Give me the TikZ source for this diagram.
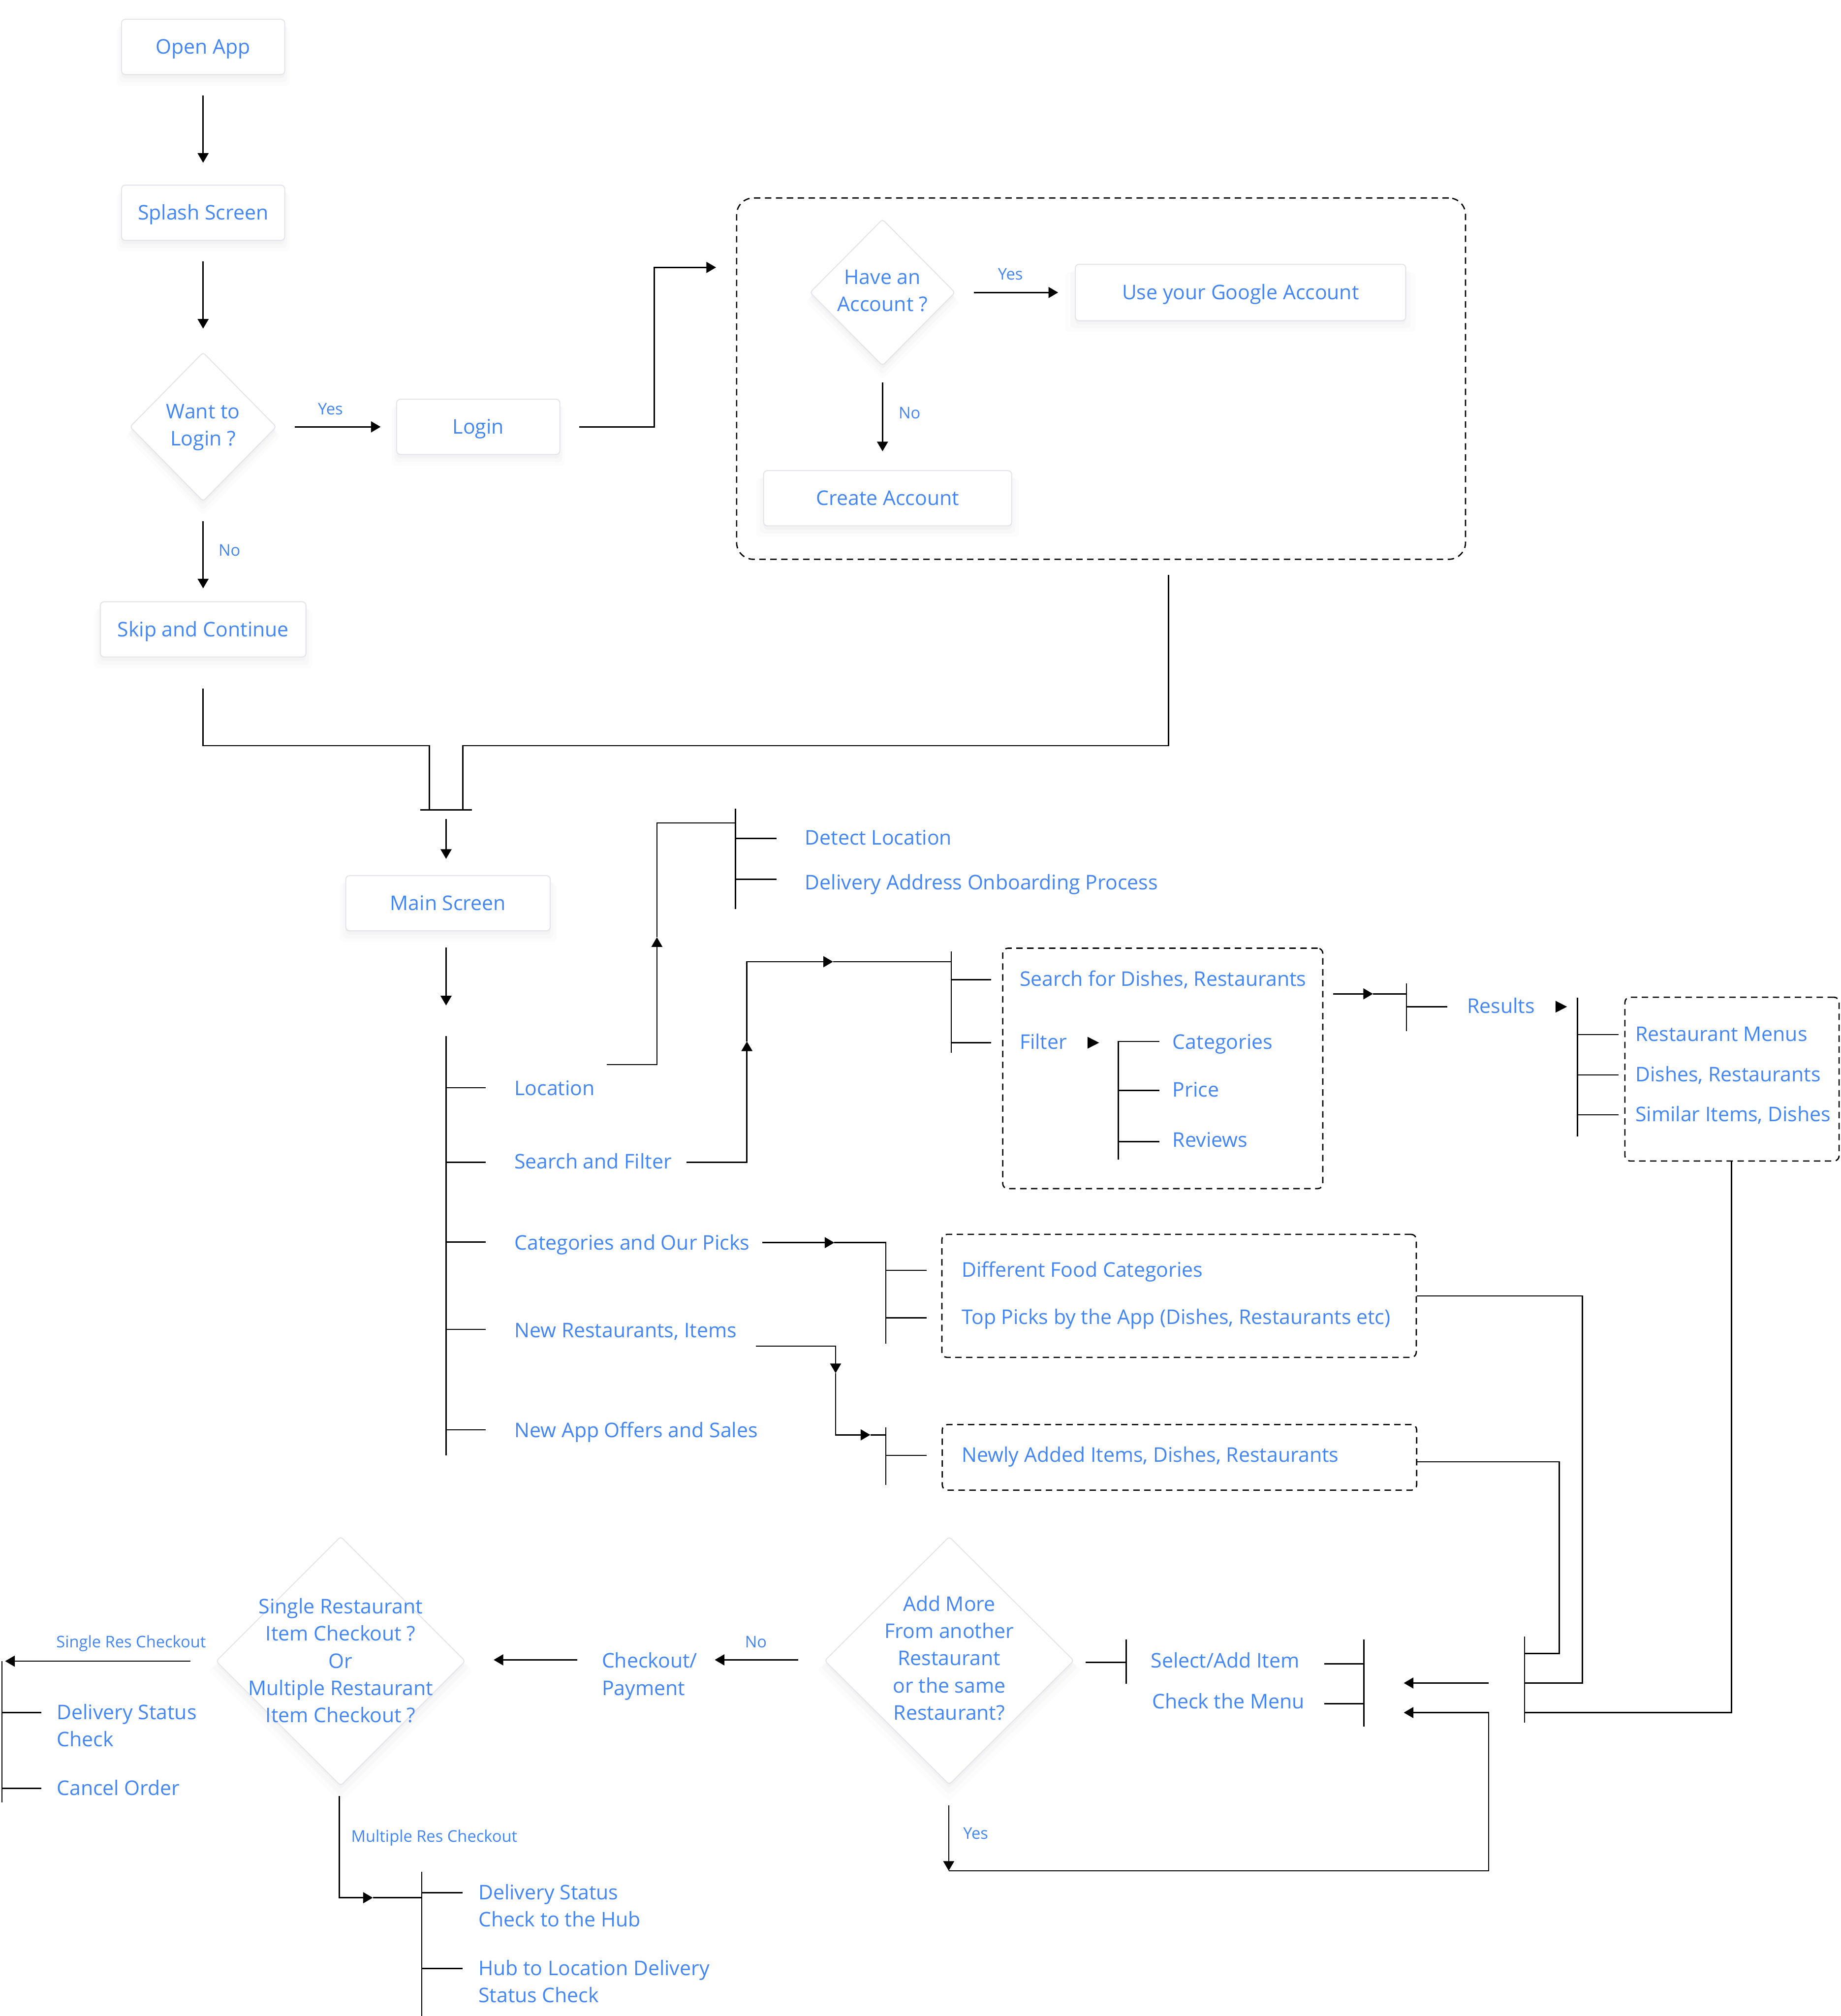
\documentclass[tikz,border=0pt]{standalone}
\usepackage{fontspec}
\setmainfont{Open Sans}
\usetikzlibrary{arrows.meta,shapes.geometric,shadows}
\definecolor{tblue}{HTML}{4285F4}
\definecolor{bgray}{HTML}{E4E4EA}
\newcommand\fmain{\fontsize{15.7}{21.2}\selectfont}
\newcommand\fsmall{\fontsize{12.5}{15}\selectfont}
\begin{document}
\begin{tikzpicture}[x=1pt,y=-1pt,
 ln/.style={line width=1pt},
 arr/.style={line width=1pt,-{Triangle[width=8.5pt,length=7.5pt]}},
 soft/.style={drop shadow={opacity=0.025, shadow xshift=0pt, shadow yshift=-7pt, shadow scale=1.06},
              drop shadow={opacity=0.03, shadow xshift=0pt, shadow yshift=-5pt, shadow scale=1.03},
              drop shadow={opacity=0.035, shadow xshift=0pt, shadow yshift=-3pt}},
 box/.style={draw=bgray, line width=0.8pt, fill=white, rounded corners=3pt, minimum height=43pt, inner sep=0pt, text=tblue, font=\fmain, text height=11pt, text depth=0pt, soft},
 dia/.style={diamond, draw=bgray, line width=0.8pt, fill=white, inner sep=0pt, rounded corners=2pt, soft},
 dtext/.style={text=tblue, font=\fmain, align=center, inner sep=0pt},
 tx/.style={text=tblue, font=\fmain, inner sep=0pt, anchor=west, text height=10.2pt, text depth=0pt},
 tm/.style={text=tblue, font=\fmain, inner sep=0pt, anchor=north west, align=left},
 lb/.style={text=tblue, font=\fsmall, inner sep=0pt, text height=9pt, text depth=0pt},
 dbox/.style={draw, line width=1pt, dash pattern=on 5pt off 3.5pt, rounded corners=4pt, inner sep=0pt},
]
\fill[white] (0,0) rectangle (1432,1568);
\useasboundingbox (0,0) rectangle (1432,1568);

% ---------- top ----------
\node[box, minimum width=127pt] (open) at (158,36.5) {Open App};
\node[box, minimum width=127pt] (splash) at (158,165.5) {Splash Screen};
\node[dia, minimum width=114pt, minimum height=116pt] (want) at (158,332) {};
\node[dtext] (wantt) at (158,332.5) {Want to\\Login ?};
\node[box, minimum width=127pt] (login) at (372,332) {Login};
\node[box, minimum width=160pt] (skip) at (158,489.5) {Skip and Continue};

\draw[arr, shorten <=16pt, shorten >=17pt] (open) -- (splash);
\draw[arr, shorten <=16pt, shorten >=18pt] (splash) -- (want);
\draw[arr, shorten <=14pt, shorten >=12pt] (want) -- (login);
\node[lb] (yes1) at (257,318) {Yes};
\draw[arr, shorten <=15pt, shorten >=10pt] (want) -- (skip);
\node[lb] (no1) at (178.5,428) {No};

% ---------- account box ----------
\node[dbox, rounded corners=13pt, minimum width=567pt, minimum height=281pt] (accbox) at (856.5,294.5) {};
\coordinate (accin) at (557,208);
\draw[arr] ([xshift=14.5pt]login.east) -| (509,208) -- (accin);
\node[dia, minimum width=113pt, minimum height=114pt] (have) at (686.5,227.5) {};
\node[dtext] (havet) at (686.5,226) {Have an\\Account ?};
\node[box, minimum width=257pt, minimum height=44pt] (google) at (965,227.5) {Use your Google Account};
\draw[arr, shorten <=14pt, shorten >=13pt] (have.east) -- (google.west);
\node[lb] (yes2) at (786,213) {Yes};
\node[box, minimum width=193pt] (create) at (690.5,387.5) {Create Account};
\coordinate (noA) at (686.5,297.5);
\coordinate (noB) at (686.5,351);
\draw[arr] (noA) -- (noB);
\node[lb] (no2) at (707.5,321) {No};

% ---------- merge to main screen ----------
\coordinate (mjL) at (334,630);
\coordinate (mjR) at (360,630);
\coordinate (accout) at (909,447);
\draw[ln] (accout) -- (909,580) -| (mjR);
\draw[ln] ([yshift=-24pt]skip.south) -- (158,580) -| (mjL);
\draw[ln] (327,630) -- (367,630);
\node[box, minimum width=159pt] (main) at (348.5,702.5) {Main Screen};
\draw[arr] (347,637) -- (347,668);
\draw[arr] (347,737) -- (347,782);

% ---------- main tree ----------
\draw[ln] (347,806) -- (347,1132);
\foreach \yy in {846,904,966,1034,1112} \draw[ln] (347,\yy) -- (378,\yy);
\node[tx] (loc) at (400,847) {Location};
\node[tx] (sf) at (400,904) {Search and Filter};
\node[tx] (cat) at (400,967) {Categories and Our Picks};
\node[tx] (newr) at (400,1035) {New Restaurants, Items};
\node[tx] (offers) at (400,1113) {New App Offers and Sales};

% ---------- location ----------
\coordinate (locm) at (511,729);
\draw[arr] (472,828) -| (locm);
\draw[ln] (locm) |- (572,640);
\draw[ln] (572,629) -- (572,707);
\draw[ln] (572,652) -- (604,652);
\draw[ln] (572,684) -- (604,684);
\node[tx] (detect) at (626,652) {Detect Location};
\node[tx] (deliv) at (626,687) {Delivery Address Onboarding Process};

% ---------- search and filter ----------
\coordinate (sfm1) at (581,810);
\coordinate (sfm2) at (648,748);
\draw[arr] (534,904) -| (sfm1);
\draw[arr] (sfm1) |- (sfm2);
\draw[ln] (sfm2) -- (740,748);
\draw[ln] (740,740) -- (740,819);
\draw[ln] (740,762) -- (771,762);
\draw[ln] (740,811) -- (771,811);
\node[dbox, minimum width=249pt, minimum height=187pt] (sbox) at (904.5,831) {};
\node[tx] (sdish) at (793,762) {Search for Dishes, Restaurants};
\node[tx] (filter) at (793,811) {Filter};
\fill (846,806.4) -- (855,811) -- (846,815.6) -- cycle;
\draw[ln] (902,810) -- (870,810) -- (870,902);
\draw[ln] (870,848) -- (902,848);
\draw[ln] (870,888) -- (902,888);
\node[tx] (fcat) at (912,811) {Categories};
\node[tx] (fprice) at (912,848) {Price};
\node[tx] (frev) at (912,887) {Reviews};

% ---------- results ----------
\coordinate (resm) at (1068,773);
\draw[arr] (1037,773) -- (resm);
\draw[ln] (resm) -- (1094,773);
\draw[ln] (1094,765) -- (1094,802);
\draw[ln] (1094,783) -- (1126,783);
\node[tx] (results) at (1141,783) {Results};
\fill (1210,778.4) -- (1219,783) -- (1210,787.6) -- cycle;
\draw[ln] (1227,776) -- (1227,884);
\foreach \yy in {804.6,836,867} \draw[ln] (1227,\yy) -- (1259,\yy);
\node[dbox, minimum width=166.6pt, minimum height=127.4pt] (rbox) at (1347.3,839.3) {};
\node[tx] (rmenu) at (1272,804.6) {Restaurant Menus};
\node[tx] (rdish) at (1272,836) {Dishes, Restaurants};
\node[tx] (rsim) at (1272,867) {Similar Items, Dishes};

% ---------- categories ----------
\coordinate (catm) at (649,966.5);
\draw[arr] (593,966.5) -- (catm);
\draw[ln] (catm) -- (689,966.5) -- (689,1045);
\draw[ln] (689,988) -- (721,988);
\draw[ln] (689,1025) -- (721,1025);
\node[dbox, minimum width=369pt, minimum height=95.7pt] (cbox) at (917.2,1007.9) {};
\node[tx] (cdiff) at (748,988) {Different Food Categories};
\node[tx] (ctop) at (748,1025) {Top Picks by the App (Dishes, Restaurants etc)};

% ---------- new restaurants ----------
\coordinate (nrm1) at (650,1068);
\coordinate (nrm2) at (677,1116);
\draw[arr] (588,1047) -| (nrm1);
\draw[arr] (nrm1) |- (nrm2);
\draw[ln] (nrm2) -- (689,1116);
\draw[ln] (689,1110) -- (689,1155);
\draw[ln] (689,1132) -- (721,1132);
\node[dbox, minimum width=369pt, minimum height=51pt] (nbox) at (917.5,1133.5) {};
\node[tx] (nnew) at (748,1132) {Newly Added Items, Dishes, Restaurants};

% ---------- right return lines ----------
\draw[ln] (1102,1008) -| (1231,1309) -- (1186,1309);
\draw[ln] (1102,1137) -| (1213,1286) -- (1186,1286);
\draw[ln] (1347,903) |- (1186,1332);
\draw[ln] (1186,1273) -- (1186,1340);
\draw[arr] (1158,1309) -- (1092,1309);
\draw[ln] (1061,1275) -- (1061,1343);
\draw[ln] (1030,1294) -- (1061,1294);
\draw[ln] (1030,1325) -- (1061,1325);
\node[tx] (select) at (895,1292) {Select/Add Item};
\node[tx] (check) at (896,1324) {Check the Menu};
\draw[ln] (876,1275) -- (876,1309.5);
\draw[ln] (844.5,1293) -- (876,1293);

% ---------- add more ----------
\node[dia, minimum width=194pt, minimum height=193pt] (addmore) at (738.4,1291.6) {};
\node[dtext] (addt) at (738.4,1289.5) {Add More\\From another\\Restaurant\\or the same\\Restaurant?};
\coordinate (yesb) at (738,1455);
\draw[arr] (738,1404) -- (yesb);
\node[lb] (yes3) at (759,1426) {Yes};
\draw[arr] (yesb) -| (1158,1332) -- (1092,1332);
\draw[arr] (621,1291) -- (556,1291);
\node[lb] (no3) at (588,1277) {No};
\node[tm] (checkout) at (468,1285.2) {Checkout/\\Payment};
\draw[arr] (449,1291) -- (384,1291);

% ---------- single / multiple ----------
\node[dia, minimum width=194pt, minimum height=194pt] (single) at (265,1292) {};
\node[dtext] (singlet) at (265,1291.5) {Single Restaurant\\Item Checkout ?\\Or\\Multiple Restaurant\\Item Checkout ?};
\draw[arr] (148,1292) -- (4,1292);
\node[lb] (srl) at (102,1277) {Single Res Checkout};
\draw[ln] (1.5,1292) -- (1.5,1402);
\draw[ln] (1.5,1332) -- (32,1332);
\draw[ln] (1.5,1391) -- (32,1391);
\node[tm] (dsc) at (44,1325.2) {Delivery Status\\Check};
\node[tx] (cancel) at (44,1391) {Cancel Order};
\coordinate (mrm) at (290,1476);
\draw[arr] (264,1397) |- (mrm);
\draw[ln] (mrm) -- (328,1476);
\node[lb, anchor=west] (mrl) at (273,1428) {Multiple Res Checkout};
\draw[ln] (328,1456) -- (328,1568);
\draw[ln] (328,1472) -- (360,1472);
\draw[ln] (328,1531) -- (360,1531);
\node[tm] (dhub) at (372,1465.2) {Delivery Status\\Check to the Hub};
\node[tm] (hubloc) at (372,1524.2) {Hub to Location Delivery\\Status Check};
\end{tikzpicture}
\end{document}
